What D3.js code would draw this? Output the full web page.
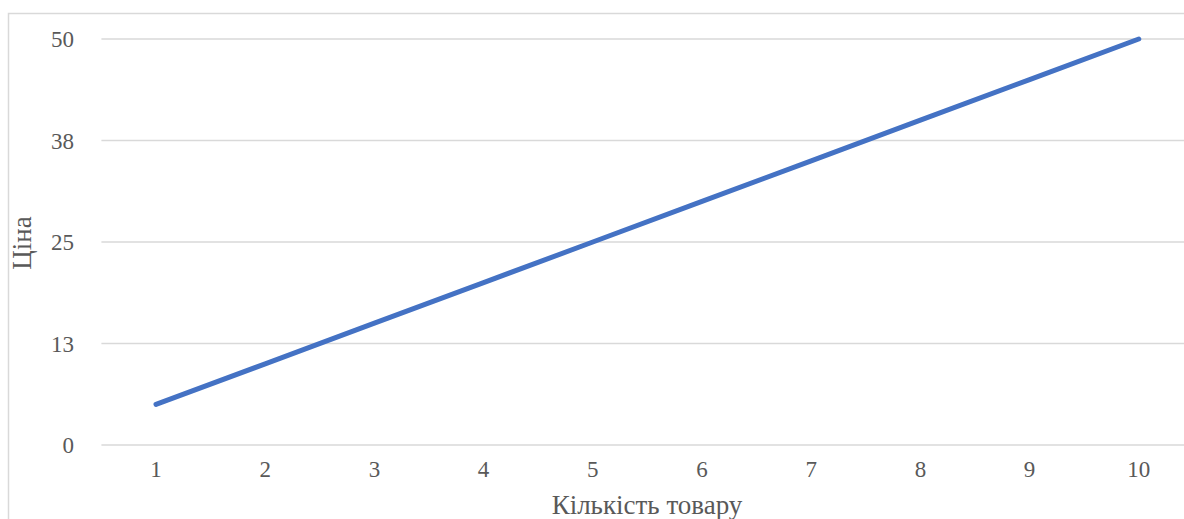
<!DOCTYPE html>
<html>
<head>
<meta charset="utf-8">
<script src="https://cdn.jsdelivr.net/npm/d3@7"></script>
<style>
  html, body { margin: 0; padding: 0; background: #fff; overflow: hidden; }
  svg { display: block; }
</style>
</head>
<body>
<svg id="chart" width="1184" height="519"></svg>
<script>
// Quantity of goods (x) and price (y)
const categories = [1, 2, 3, 4, 5, 6, 7, 8, 9, 10];
const prices = [5, 10, 15, 20, 25, 30, 35, 40, 45, 50];
const yTickValues = [0, 12.5, 25, 37.5, 50];
const yTickLabels = ["0", "13", "25", "38", "50"];
const xTitle = "Кількість товару";
const yTitle = "Ціна";

const FONT = "'Liberation Serif', 'Times New Roman', serif";
const TEXT_COLOR = "#595959";

const svg = d3.select("#chart");
const W = 1184, H = 519;

// chart frame
svg.append("rect")
  .attr("x", 8.5).attr("y", 13.5)
  .attr("width", W + 20).attr("height", H + 20)
  .attr("fill", "#fff")
  .attr("stroke", "#d9d9d9").attr("stroke-width", 1.5);

const plot = { left: 101.4, right: 1193.4, top: 39, bottom: 445 };

const x = d3.scaleBand()
  .domain(categories)
  .range([plot.left, plot.right]);

const y = d3.scaleLinear()
  .domain([0, 50])
  .range([plot.bottom, plot.top]);

// horizontal gridlines
svg.append("g")
  .selectAll("line")
  .data(yTickValues)
  .join("line")
  .attr("x1", plot.left).attr("x2", plot.right)
  .attr("y1", d => y(d)).attr("y2", d => y(d))
  .attr("stroke", "#d9d9d9").attr("stroke-width", 1.5);

// y tick labels
svg.append("g")
  .selectAll("text")
  .data(yTickValues)
  .join("text")
  .attr("x", 74)
  .attr("y", d => y(d))
  .attr("dy", "0.35em")
  .attr("text-anchor", "end")
  .attr("font-family", FONT)
  .attr("fill", TEXT_COLOR)
  .attr("font-size", 23)
  .text((d, i) => yTickLabels[i]);

// x tick labels
svg.append("g")
  .selectAll("text")
  .data(categories)
  .join("text")
  .attr("x", d => x(d) + x.bandwidth() / 2)
  .attr("y", 477)
  .attr("text-anchor", "middle")
  .attr("font-family", FONT)
  .attr("fill", TEXT_COLOR)
  .attr("font-size", 23)
  .text(d => d);

// price line
const line = d3.line()
  .x((d, i) => x(categories[i]) + x.bandwidth() / 2)
  .y(d => y(d));

svg.append("path")
  .datum(prices)
  .attr("d", line)
  .attr("fill", "none")
  .attr("stroke", "#4472c4")
  .attr("stroke-width", 5)
  .attr("stroke-linecap", "round")
  .attr("stroke-linejoin", "round");

// axis titles
svg.append("text")
  .attr("x", 647)
  .attr("y", 514)
  .attr("text-anchor", "middle")
  .attr("font-family", FONT)
  .attr("fill", TEXT_COLOR)
  .attr("font-size", 27)
  .text(xTitle);

svg.append("text")
  .attr("transform", "translate(31," + 243 + ") rotate(-90)")
  .attr("text-anchor", "middle")
  .attr("font-family", FONT)
  .attr("fill", TEXT_COLOR)
  .attr("font-size", 27)
  .text(yTitle);
</script>
</body>
</html>
